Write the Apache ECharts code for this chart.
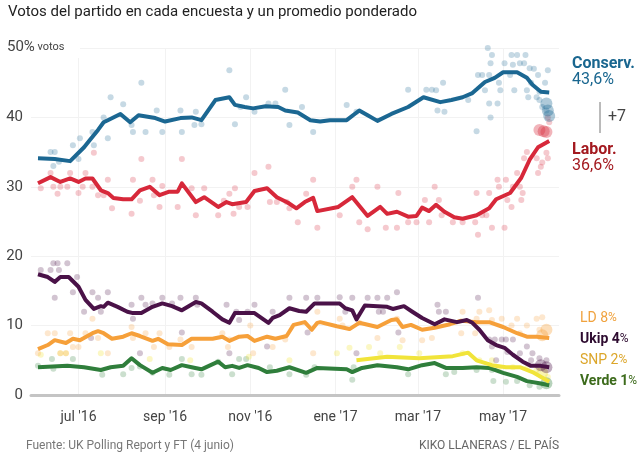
<!DOCTYPE html>
<html><head><meta charset="utf-8">
<script src="https://cdn.jsdelivr.net/npm/echarts@6/dist/echarts.min.js"></script>
<style>html,body{margin:0;padding:0;background:#fff}#c{width:640px;height:462px}</style>
</head><body><div id="c"></div>
<script>
const xTickDates = ['2016-07-01','2016-09-01','2016-11-01','2017-01-01','2017-03-01','2017-05-01'];
const xTickLabels = ["jul '16","sep '16","nov '16","ene '17","mar '17","may '17"];
const yTicks = [0,10,20,30,40,50];

const conLine = [['2016-06-02',34.1],['2016-06-14',34.0],['2016-06-25',33.7],['2016-07-05',35.7],['2016-07-09',36.7],['2016-07-15',38.2],['2016-07-19',39.3],['2016-07-22',39.6],['2016-07-31',40.5],['2016-08-07',39.3],['2016-08-13',40.3],['2016-08-25',39.9],['2016-09-01',39.4],['2016-09-12',39.9],['2016-09-20',40.0],['2016-09-27',39.6],['2016-10-07',42.5],['2016-10-17',42.9],['2016-10-21',41.8],['2016-10-28',41.5],['2016-11-03',41.3],['2016-11-12',41.6],['2016-11-21',41.5],['2016-11-26',41.0],['2016-12-05',40.7],['2016-12-14',39.6],['2016-12-21',39.4],['2016-12-28',39.6],['2017-01-09',39.6],['2017-01-18',41.0],['2017-01-24',40.3],['2017-01-31',39.5],['2017-02-10',40.5],['2017-02-22',41.5],['2017-03-05',42.9],['2017-03-17',42.2],['2017-03-25',42.5],['2017-04-02',42.9],['2017-04-09',43.5],['2017-04-18',45.1],['2017-04-25',45.7],['2017-05-01',46.5],['2017-05-11',46.5],['2017-05-18',45.7],['2017-05-22',44.7],['2017-05-28',43.7],['2017-06-03',43.6]];
const labLine = [['2016-06-02',30.5],['2016-06-11',31.4],['2016-06-18',30.7],['2016-06-25',31.2],['2016-07-01',30.7],['2016-07-06',31.2],['2016-07-11',31.2],['2016-07-17',29.5],['2016-07-22',29.1],['2016-07-26',28.4],['2016-08-02',28.2],['2016-08-08',28.2],['2016-08-14',29.5],['2016-08-21',30.0],['2016-08-28',28.8],['2016-09-04',29.3],['2016-09-10',29.3],['2016-09-13',30.5],['2016-09-23',27.8],['2016-09-29',28.5],['2016-10-09',27.1],['2016-10-15',27.8],['2016-10-19',27.5],['2016-10-29',27.8],['2016-11-04',29.4],['2016-11-13',29.8],['2016-11-20',28.5],['2016-11-28',27.7],['2016-12-04',26.9],['2016-12-10',27.8],['2016-12-16',28.4],['2016-12-19',26.5],['2017-01-03',27.1],['2017-01-13',28.5],['2017-01-24',25.8],['2017-02-02',27.1],['2017-02-07',26.1],['2017-02-14',26.4],['2017-02-22',25.7],['2017-02-28',25.8],['2017-03-04',27.0],['2017-03-09',26.5],['2017-03-14',27.4],['2017-03-20',26.4],['2017-03-27',25.6],['2017-04-02',25.4],['2017-04-12',25.9],['2017-04-21',26.9],['2017-04-26',28.2],['2017-05-06',29.1],['2017-05-14',31.3],['2017-05-20',33.9],['2017-05-26',35.7],['2017-06-03',36.6]];
const ukipLine = [['2016-06-02',17.4],['2016-06-09',17.0],['2016-06-14',16.3],['2016-06-18',17.0],['2016-06-24',17.0],['2016-07-01',15.6],['2016-07-06',13.7],['2016-07-12',12.4],['2016-07-17',12.8],['2016-07-19',12.7],['2016-07-22',13.3],['2016-07-29',12.7],['2016-08-05',12.0],['2016-08-09',11.8],['2016-08-15',11.8],['2016-08-23',12.7],['2016-08-30',13.2],['2016-09-06',12.8],['2016-09-13',12.2],['2016-09-23',13.4],['2016-09-27',13.2],['2016-10-05',12.0],['2016-10-12',10.9],['2016-10-17',10.4],['2016-10-21',11.8],['2016-10-29',11.8],['2016-11-04',11.8],['2016-11-14',10.4],['2016-11-17',11.1],['2016-11-22',11.5],['2016-11-29',12.5],['2016-12-06',12.1],['2016-12-11',12.0],['2016-12-17',13.2],['2016-12-21',13.2],['2017-01-04',13.2],['2017-01-08',12.5],['2017-01-13',12.2],['2017-01-16',10.9],['2017-01-22',12.9],['2017-01-31',12.8],['2017-02-07',12.7],['2017-02-11',12.4],['2017-02-19',12.8],['2017-02-25',12.0],['2017-03-04',11.1],['2017-03-13',10.2],['2017-03-20',10.9],['2017-03-29',10.5],['2017-04-05',10.8],['2017-04-09',10.4],['2017-04-14',9.4],['2017-04-20',7.9],['2017-04-26',7.2],['2017-05-02',6.8],['2017-05-08',5.8],['2017-05-15',4.8],['2017-05-21',4.2],['2017-05-28',4.2],['2017-06-03',4.0]];
const ldLine = [['2016-06-02',6.6],['2016-06-09',7.2],['2016-06-14',7.9],['2016-06-22',7.5],['2016-06-27',8.1],['2016-07-02',7.9],['2016-07-11',8.9],['2016-07-15',9.2],['2016-07-19',8.9],['2016-07-25',8.1],['2016-08-02',8.4],['2016-08-08',8.9],['2016-08-14',8.5],['2016-08-23',7.8],['2016-08-27',8.1],['2016-09-03',7.3],['2016-09-13',7.2],['2016-09-20',8.1],['2016-10-05',8.1],['2016-10-12',8.4],['2016-10-17',7.8],['2016-10-24',8.4],['2016-10-30',8.5],['2016-11-04',7.8],['2016-11-13',8.4],['2016-11-19',8.1],['2016-11-27',8.5],['2016-12-02',10.1],['2016-12-10',10.5],['2016-12-15',9.4],['2016-12-19',10.4],['2016-12-21',10.5],['2017-01-02',9.9],['2017-01-11',9.5],['2017-01-18',10.4],['2017-01-31',9.8],['2017-02-10',10.8],['2017-02-14',10.9],['2017-02-18',9.8],['2017-02-24',10.1],['2017-03-04',9.4],['2017-03-13',9.7],['2017-03-24',10.2],['2017-04-01',10.7],['2017-04-12',10.5],['2017-04-21',10.5],['2017-05-01',9.8],['2017-05-11',8.9],['2017-05-18',8.4],['2017-05-25',8.4],['2017-06-03',8.2]];
const snpLine = [['2017-01-16',5.0],['2017-02-07',5.5],['2017-03-02',5.3],['2017-03-26',5.6],['2017-04-06',6.1],['2017-04-12',5.0],['2017-04-23',4.3],['2017-05-03',4.0],['2017-05-13',4.0],['2017-05-22',3.3],['2017-06-03',1.9]];
const greenLine = [['2016-06-02',4.0],['2016-06-23',4.2],['2016-07-05',4.0],['2016-07-17',3.6],['2016-07-24',4.0],['2016-08-02',4.2],['2016-08-08',5.3],['2016-08-14',4.3],['2016-08-23',3.2],['2016-08-30',3.9],['2016-09-05',3.6],['2016-09-13',4.3],['2016-09-20',4.0],['2016-09-27',3.7],['2016-10-09',4.8],['2016-10-14',4.0],['2016-10-19',4.2],['2016-10-24',3.9],['2016-10-30',4.3],['2016-11-07',3.9],['2016-11-13',3.3],['2016-11-20',3.5],['2016-11-29',4.0],['2016-12-11',3.2],['2016-12-19',3.9],['2017-01-09',3.7],['2017-01-13',3.3],['2017-01-20',3.9],['2017-01-31',4.3],['2017-02-14',4.0],['2017-02-22',3.7],['2017-03-04',4.3],['2017-03-13',4.6],['2017-03-21',3.9],['2017-04-02',3.9],['2017-04-12',4.0],['2017-04-21',3.9],['2017-05-01',3.2],['2017-05-11',2.6],['2017-05-18',2.0],['2017-05-27',1.7],['2017-06-03',1.4]];

const conPolls = [['2016-06-11',35.0],['2016-06-14',35.0],['2016-06-13',33.0],['2016-06-17',33.6],['2016-06-27',36.0],['2016-07-02',37.0],['2016-07-11',37.9],['2016-07-12',36.0],['2016-07-01',34.0],['2016-07-22',37.0],['2016-07-24',42.9],['2016-07-19',40.0],['2016-08-02',41.9],['2016-08-08',38.9],['2016-08-09',37.9],['2016-08-15',45.0],['2016-08-18',37.9],['2016-08-26',41.0],['2016-08-30',37.9],['2016-09-12',41.0],['2016-09-13',37.9],['2016-09-22',38.9],['2016-09-23',40.8],['2016-09-27',39.0],['2016-10-17',46.8],['2016-10-21',39.0],['2016-10-25',41.5],['2016-10-29',42.9],['2016-11-04',40.8],['2016-11-14',42.0],['2016-11-19',42.0],['2016-11-26',44.0],['2016-11-29',38.9],['2016-12-08',41.5],['2016-12-16',37.9],['2017-01-09',41.8],['2017-01-16',40.8],['2017-02-22',44.0],['2017-03-07',44.0],['2017-03-11',44.0],['2017-03-14',43.9],['2017-03-15',41.0],['2017-03-19',45.0],['2017-03-20',40.8],['2017-04-06',42.5],['2017-04-13',46.1],['2017-04-12',38.0],['2017-04-16',46.1],['2017-04-18',43.9],['2017-04-20',50.0],['2017-04-21',46.1],['2017-04-22',47.8],['2017-04-21',42.0],['2017-04-22',40.0],['2017-04-23',49.0],['2017-04-27',42.0],['2017-04-28',45.0],['2017-04-29',43.9],['2017-05-02',47.8],['2017-05-06',46.1],['2017-05-07',49.0],['2017-05-08',47.6],['2017-05-09',43.9],['2017-05-11',49.0],['2017-05-13',47.8],['2017-05-16',47.8],['2017-05-17',49.0],['2017-05-18',43.9],['2017-05-20',47.1],['2017-05-21',45.0],['2017-05-19',42.9],['2017-05-23',47.0],['2017-05-26',46.1],['2017-05-25',42.9],['2017-05-27',43.7],['2017-05-27',42.5],['2017-05-29',41.5],['2017-05-31',45.0],['2017-06-01',41.0],['2017-06-02',46.8]];
const conRecent = [['2017-06-01',42.0],['2017-06-02',41.0],['2017-06-03',40.2]];
const labPolls = [['2016-06-04',29.8],['2016-06-11',32.0],['2016-06-13',30.0],['2016-06-16',29.0],['2016-06-18',30.0],['2016-06-23',30.0],['2016-06-25',32.0],['2016-07-01',29.1],['2016-07-04',30.0],['2016-07-06',32.0],['2016-07-11',30.0],['2016-07-12',34.9],['2016-07-15',28.8],['2016-07-19',28.8],['2016-07-22',31.0],['2016-07-25',26.9],['2016-08-08',26.1],['2016-08-09',31.0],['2016-08-14',28.0],['2016-08-15',34.0],['2016-08-23',31.0],['2016-08-24',28.8],['2016-08-28',27.1],['2016-08-30',30.1],['2016-09-10',27.1],['2016-09-13',34.0],['2016-09-20',29.8],['2016-09-23',25.9],['2016-09-29',29.8],['2016-10-09',25.9],['2016-10-13',28.0],['2016-10-17',29.0],['2016-10-21',29.8],['2016-10-20',26.1],['2016-10-24',27.1],['2016-10-30',27.1],['2016-11-04',32.0],['2016-11-14',32.9],['2016-11-15',27.8],['2016-11-20',27.8],['2016-11-27',27.8],['2016-11-29',26.9],['2016-12-05',24.9],['2016-12-11',29.0],['2016-12-16',31.0],['2016-12-19',24.1],['2017-01-04',25.9],['2017-01-13',30.0],['2017-01-16',31.0],['2017-01-18',24.9],['2017-01-24',23.9],['2017-01-31',30.0],['2017-02-06',24.1],['2017-02-14',24.1],['2017-02-15',29.1],['2017-02-22',24.9],['2017-02-28',24.9],['2017-03-06',28.1],['2017-03-09',24.9],['2017-03-13',30.0],['2017-03-16',28.1],['2017-03-18',25.9],['2017-03-26',24.9],['2017-04-02',24.9],['2017-04-12',29.1],['2017-04-11',24.9],['2017-04-13',23.1],['2017-04-16',25.9],['2017-04-19',25.9],['2017-04-21',29.1],['2017-04-23',24.1],['2017-04-27',31.0],['2017-04-28',30.0],['2017-05-02',24.1],['2017-05-03',31.0],['2017-05-04',28.1],['2017-05-07',27.1],['2017-05-08',30.0],['2017-05-11',32.0],['2017-05-13',30.0],['2017-05-14',28.1],['2017-05-15',29.1],['2017-05-16',34.1],['2017-05-18',35.0],['2017-05-25',34.1],['2017-05-26',32.0],['2017-05-28',32.9],['2017-05-29',33.5],['2017-06-01',34.9],['2017-06-02',34.1],['2017-06-03',39.3],['2017-06-02',40.0]];
const labRecent = [['2017-05-27',38.2],['2017-06-01',37.9],['2017-05-30',38.0]];
const ukipPolls = [['2016-06-04',18],['2016-06-11',18],['2016-06-13',19],['2016-06-16',19],['2016-06-23',19],['2016-06-17',18],['2016-06-14',14],['2016-06-30',17],['2016-06-27',14.8],['2016-07-11',14.8],['2016-07-05',12],['2016-07-10',8.2],['2016-07-15',14],['2016-07-17',12],['2016-07-22',14.8],['2016-08-08',13],['2016-08-09',11],['2016-08-14',6],['2016-08-15',14],['2016-08-18',13],['2016-08-23',13.2],['2016-08-30',14],['2016-09-06',13.2],['2016-09-13',9],['2016-09-12',14],['2016-09-23',14],['2016-09-24',13],['2016-10-15',13],['2016-10-17',6],['2016-10-22',12],['2016-10-24',10.8],['2016-10-30',12],['2016-11-04',13],['2016-11-13',7],['2016-11-17',12],['2016-11-29',14],['2016-12-11',14],['2016-12-19',14],['2016-12-12',9],['2017-01-04',14.1],['2017-01-13',14],['2017-01-24',14],['2017-01-31',14],['2017-02-07',14],['2017-02-14',14.8],['2017-01-08',12],['2017-02-01',12],['2017-02-04',12],['2017-02-15',9],['2017-03-15',13],['2017-03-16',12],['2017-03-21',12],['2017-04-13',14],['2017-04-21',8],['2017-04-25',8],['2017-04-30',8],['2017-05-03',8],['2017-05-08',8],['2017-05-18',7],['2017-04-23',7],['2017-04-26',5],['2017-05-04',6.2],['2017-05-13',6],['2017-05-22',6],['2017-05-27',5.3],['2017-06-01',5],['2017-05-21',5],['2017-01-16',6]];
const ukipRecent = [['2017-05-28',4.3],['2017-06-01',4.0]];
const ldPolls = [['2016-06-09',8.9],['2016-06-14',8.9],['2016-06-25',8.9],['2016-07-06',8.9],['2016-06-27',6.9],['2016-07-01',6.9],['2016-06-02',6],['2016-06-18',6],['2016-06-22',6],['2016-07-11',11],['2016-07-15',8.2],['2016-07-22',6],['2016-08-08',9.8],['2016-08-09',8.2],['2016-08-18',8.9],['2016-08-24',6.9],['2016-08-28',8.9],['2016-09-04',6.9],['2016-09-12',8],['2016-09-20',6.9],['2016-10-12',8.9],['2016-10-16',6.9],['2016-10-17',8],['2016-11-01',10],['2016-11-03',6],['2016-11-17',6.9],['2016-11-26',8],['2016-12-16',6],['2016-12-19',12],['2017-01-06',10],['2017-01-18',10.4],['2017-01-04',11],['2017-01-31',8.2],['2017-02-18',7.9],['2017-03-04',7.9],['2017-02-14',11],['2017-03-11',8.2],['2017-04-02',12],['2017-04-12',11],['2017-04-14',12],['2017-04-21',12.2],['2017-04-23',10.8],['2017-04-30',11],['2017-05-07',10],['2017-05-11',11],['2017-05-18',10],['2017-05-25',11],['2017-05-29',11.2],['2017-05-27',9.4],['2017-05-13',8.9],['2017-04-11',8.9],['2017-04-01',8.9]];
const ldRecent = [['2017-06-01',9.4],['2017-05-29',8.6]];
const snpPolls = [['2016-06-04',5.8],['2016-06-18',6],['2016-06-22',6],['2016-07-17',6],['2016-08-21',5.2],['2016-09-19',5],['2016-10-31',5.5],['2016-11-29',5],['2017-01-02',6],['2017-01-11',6.8],['2017-01-25',6.9],['2017-02-02',6],['2017-02-16',6.9],['2017-03-02',6],['2017-04-02',6],['2017-04-14',5],['2017-04-23',5],['2017-04-28',3.9],['2017-05-08',4],['2017-05-18',3.9],['2017-05-25',3.6],['2017-06-02',2.6]];
const snpRecent = [['2017-05-29',3.2]];
const greenPolls = [['2016-06-02',4.2],['2016-06-12',5.2],['2016-06-27',5.2],['2016-06-13',3.8],['2016-07-18',2.9],['2016-08-02',3],['2016-08-08',3.9],['2016-08-14',4.1],['2016-08-23',3.2],['2016-09-04',2.9],['2016-09-13',5.2],['2016-09-20',3],['2016-09-27',2.9],['2016-10-09',4.8],['2016-10-24',5.2],['2016-10-29',5.2],['2016-10-19',3],['2016-11-15',4],['2016-11-29',3],['2016-12-11',2.9],['2016-12-17',4],['2017-01-13',2.2],['2017-01-14',4],['2017-02-22',3],['2017-03-21',3],['2017-03-27',3.3],['2017-04-12',3.6],['2017-04-23',3.6],['2017-04-24',2],['2017-05-03',1.9],['2017-05-11',2],['2017-05-20',1.4],['2017-05-27',1.2]];
const greenRecent = [['2017-06-01',1.7]];

const C = {con:'#1b6792', lab:'#d7283a', ukip:'#4a1248', ld:'#f6a03a', snp:'#f1e43a', green:'#2f7e3b'};
const ts = s => Date.UTC(+s.slice(0,4), +s.slice(5,7) - 1, +s.slice(8,10));
const tickTs = xTickDates.map(ts);
const toXY = arr => arr.map(p => [ts(p[0]), p[1]]);

function dots(data, color, size, op) {
  return {type:'scatter', data:toXY(data), symbolSize:size, silent:true, z:1,
    itemStyle:{color, opacity:op}};
}
function line(data, color, z) {
  return {type:'line', data:toXY(data), showSymbol:false, silent:true, z,
    lineStyle:{color, width:4, join:'round'}};
}

const chart = echarts.init(document.getElementById('c'), null, {renderer:'canvas'});
chart.setOption({
  animation:false,
  grid:{left:31, right:81, top:48, bottom:67},
  xAxis:{type:'value', min:ts('2016-05-28'), max:ts('2017-06-10'),
    axisLine:{show:true, lineStyle:{color:'#c4c4c4', width:3}},
    axisTick:{show:false, customValues:tickTs},
    axisLabel:{customValues:tickTs, margin:15, color:'#444', fontSize:14, fontFamily:'Roboto',
      formatter:v => { const i = tickTs.findIndex(t => Math.abs(t - v) < 86400000); return i >= 0 ? xTickLabels[i] : ''; }},
    splitLine:{show:true, lineStyle:{color:'#f2f2f2', width:1}}
  },
  yAxis:{type:'value', min:yTicks[0], max:yTicks[yTicks.length-1], interval:10,
    axisLine:{show:false}, axisTick:{show:false},
    axisLabel:{margin:8, color:'#444', fontSize:15, fontFamily:'Roboto', align:'right',
      formatter:v => v === 50 ? '' : String(v)},
    splitLine:{show:true, lineStyle:{color:'#f2f2f2', width:1}}
  },
  series:[
    dots(greenPolls, C.green, 6, 0.25), dots(snpPolls, C.snp, 6, 0.3), dots(ldPolls, C.ld, 6, 0.25),
    dots(ukipPolls, C.ukip, 6, 0.25), dots(labPolls, C.lab, 6, 0.25), dots(conPolls, C.con, 6, 0.25),
    dots(greenRecent, C.green, 12, 0.35), dots(snpRecent, C.snp, 12, 0.4), dots(ldRecent, C.ld, 12, 0.35),
    dots(ukipRecent, C.ukip, 12, 0.35), dots(labRecent, C.lab, 12, 0.35), dots(conRecent, C.con, 12, 0.35),
    line(greenLine, C.green, 3), line(snpLine, C.snp, 4), line(ldLine, C.ld, 5),
    line(ukipLine, C.ukip, 6), line(labLine, C.lab, 7), line(conLine, C.con, 8)
  ],
  graphic:[
    {type:'text', left:8, top:5, style:{text:'Votos del partido en cada encuesta y un promedio ponderado', fontSize:15, fontFamily:'Roboto', fill:'#222'}},
    {type:'rect', left:5, top:40, z:50, shape:{width:75, height:18}, style:{fill:'#fff'}},
    {type:'text', left:7, top:40, z:51, style:{text:'{a|50%}{b| votos}', rich:{a:{fontSize:15, fontFamily:'Roboto', fill:'#444'}, b:{fontSize:11, fontFamily:'Roboto', fill:'#444'}}}},
    {type:'text', left:572, top:56, style:{text:'Conserv.', fontSize:16, fontWeight:'bold', fontFamily:'Roboto', fill:'#19668f'}},
    {type:'text', left:572, top:72, style:{text:'43,6%', fontSize:16, fontFamily:'Roboto', fill:'#19668f'}},
    {type:'line', shape:{x1:600, y1:102, x2:600, y2:133}, style:{stroke:'#777', lineWidth:1}},
    {type:'text', left:608, top:109, style:{text:'+7', fontSize:16, fontFamily:'Roboto', fill:'#444'}},
    {type:'text', left:572, top:142, style:{text:'Labor.', fontSize:16, fontWeight:'bold', fontFamily:'Roboto', fill:'#a3191f'}},
    {type:'text', left:572, top:158, style:{text:'36,6%', fontSize:16, fontFamily:'Roboto', fill:'#a3191f'}},
    {type:'text', left:580, top:311, style:{text:'{a|LD 8}{b|%}', rich:{a:{fontSize:14, fontFamily:'Roboto', fill:'#f0a23e'}, b:{fontSize:12, fontFamily:'Roboto', fill:'#f0a23e'}}}},
    {type:'text', left:580, top:332, style:{text:'{a|Ukip 4}{b|%}', rich:{a:{fontSize:14, fontWeight:'bold', fontFamily:'Roboto', fill:'#2e0c30'}, b:{fontSize:12, fontFamily:'Roboto', fill:'#2e0c30'}}}},
    {type:'text', left:580, top:353, style:{text:'{a|SNP 2}{b|%}', rich:{a:{fontSize:14, fontFamily:'Roboto', fill:'#dca62a'}, b:{fontSize:12, fontFamily:'Roboto', fill:'#dca62a'}}}},
    {type:'text', left:580, top:374, style:{text:'{a|Verde 1}{b|%}', rich:{a:{fontSize:14, fontWeight:'bold', fontFamily:'Roboto', fill:'#3d6b1c'}, b:{fontSize:12, fontFamily:'Roboto', fill:'#3d6b1c'}}}},
    {type:'text', left:26, top:440, style:{text:'Fuente: UK Polling Report y FT (4 junio)', fontSize:12, fontFamily:'Roboto', fill:'#777'}},
    {type:'text', right:81, top:440, style:{text:'KIKO LLANERAS / EL PAÍS', fontSize:12, fontFamily:'Roboto', fill:'#666'}}
  ]
});
</script></body></html>
